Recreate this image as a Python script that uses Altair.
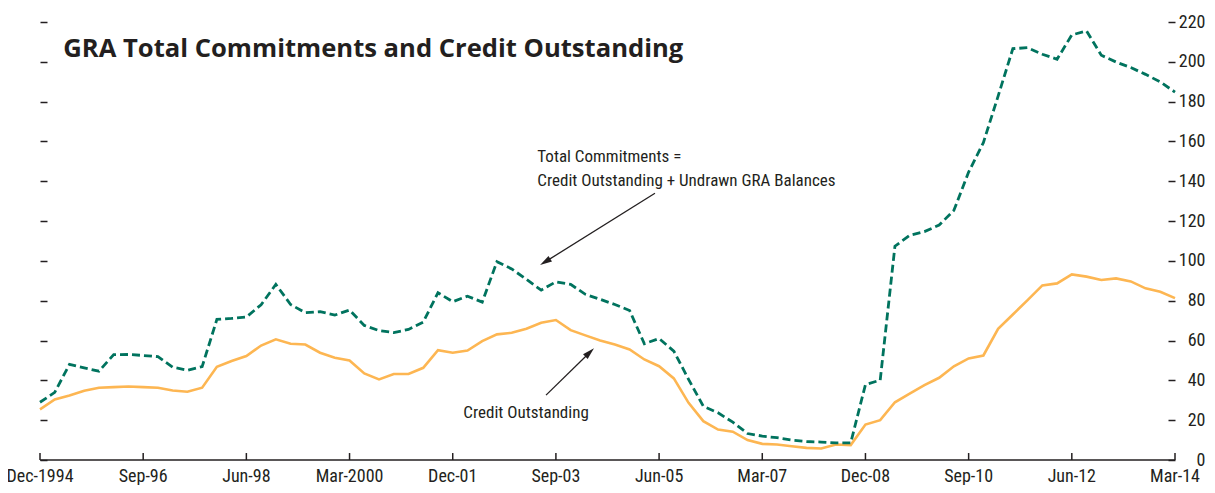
import altair as alt
import pandas as pd

# ---------------- data ----------------
quarters = [str(p) for p in pd.period_range("1994Q4", "2014Q1", freq="Q")]

total_commitments = [
    29.0, 34.0, 48.0, 46.3, 44.6, 52.9, 53.0, 52.5, 51.9, 46.6,
    45.1, 46.9, 70.6, 71.1, 71.8, 78.0, 88.2, 78.1, 74.0, 74.5,
    72.8, 75.3, 67.6, 65.0, 64.0, 65.6, 69.3, 84.0, 79.5, 82.3,
    79.3, 99.6, 96.0, 90.7, 85.3, 89.5, 88.2, 83.2, 80.7, 78.1,
    75.1, 58.4, 61.0, 54.7, 40.5, 27.0, 23.7, 19.0, 13.3, 12.0,
    11.2, 10.0, 9.3, 9.0, 8.6, 8.6, 37.9, 40.1, 107.4, 112.8,
    114.7, 118.0, 125.4, 144.6, 159.4, 182.8, 206.6, 207.1, 203.8, 201.3,
    213.5, 215.5, 203.3, 199.9, 197.1, 193.7, 189.9, 184.8,
]

credit_outstanding = [
    25.4, 30.4, 32.4, 34.8, 36.3, 36.6, 36.9, 36.6, 36.3, 34.9,
    34.3, 36.3, 46.8, 49.7, 52.2, 57.5, 60.6, 58.4, 58.0, 53.9,
    51.4, 50.0, 43.5, 40.5, 43.2, 43.2, 46.3, 55.2, 53.9, 55.0,
    59.7, 63.1, 63.9, 65.9, 68.9, 70.3, 65.2, 62.6, 60.0, 58.0,
    55.5, 50.5, 47.1, 41.0, 28.7, 19.5, 15.3, 14.2, 10.0, 8.1,
    7.8, 6.9, 6.1, 5.8, 7.8, 7.5, 17.8, 20.0, 29.0, 33.3,
    37.6, 41.3, 47.1, 51.0, 52.5, 65.9, 73.1, 80.3, 87.7, 88.7,
    93.2, 92.1, 90.4, 91.2, 89.7, 86.2, 84.5, 81.3,
]

tick_labels = ["Dec-1994", "Sep-96", "Jun-98", "Mar-2000", "Dec-01", "Sep-03",
               "Jun-05", "Mar-07", "Dec-08", "Sep-10", "Jun-12", "Mar-14"]
tick_positions = [0, 7, 14, 21, 28, 35, 42, 49, 56, 63, 70, 77]
y_ticks = [0, 20, 40, 60, 80, 100, 120, 140, 160, 180, 200, 220]

# annotations (data coordinates: quarter index, value)
note_text = ["Total Commitments =", "Credit Outstanding + Undrawn GRA Balances", "Credit Outstanding"]
note_x = [33.74, 33.74, 28.72]
note_y = [149.8, 137.8, 20.9]

arrow_x = [41.72, 34.33]
arrow_y = [134.0, 32.6]
arrow_x2 = [34.27, 37.29]
arrow_y2 = [99.5, 54.0]
arrow_angle = [238, 46]

title_text = ["GRA Total Commitments and Credit Outstanding"]
title_x = [1.58]
title_y = [202.6]

# ---------------- styling ----------------
FONT = "Liberation Sans Narrow, Roboto Condensed, DejaVu Sans Condensed, sans-serif"
TXT = "#231f20"
GREEN = "#00735E"
ORANGE = "#FDB652"

df = pd.DataFrame({
    "q": list(range(len(quarters))),
    "quarter": quarters,
    "total": total_commitments,
    "credit": credit_outstanding,
})
notes = pd.DataFrame({"text": note_text, "x": note_x, "y": note_y})
arrows = pd.DataFrame({"x": arrow_x, "y": arrow_y, "x2": arrow_x2, "y2": arrow_y2, "angle": arrow_angle})
titles = pd.DataFrame({"text": title_text, "x": title_x, "y": title_y})
ticks_df = pd.DataFrame({"pos": tick_positions, "label": tick_labels})

x_scale = alt.Scale(domain=[0, 77], nice=False, zero=False)
y_scale = alt.Scale(domain=[0, 220], nice=False, zero=True)

y_axis_right = alt.Axis(
    orient="right", values=y_ticks, title=None, grid=False, domain=False,
    ticks=True, tickSize=7, tickWidth=1.5, tickColor=TXT, offset=-7,
    labelAlign="right", labelPadding=30, labelFont=FONT, labelFontSize=18,
    labelColor=TXT, labelFlush=False,
)
y_axis_left = alt.Axis(
    orient="left", values=y_ticks, title=None, grid=False, domain=False,
    ticks=True, tickSize=7, tickWidth=1.5, tickColor=TXT, offset=-7,
    labels=False,
)

base = alt.Chart(df)

credit_line = base.mark_line(color=ORANGE, strokeWidth=2.6).encode(
    x=alt.X("q:Q", scale=x_scale, axis=None),
    y=alt.Y("credit:Q", scale=y_scale, axis=y_axis_right),
)

total_line = base.mark_line(color=GREEN, strokeWidth=2.8, strokeDash=[8, 4]).encode(
    x=alt.X("q:Q", axis=None),
    y=alt.Y("total:Q", axis=None),
)

# x axis line (at value 0) and inward ticks / labels, driven by the tick arrays
baseline = alt.Chart(pd.DataFrame({"a": [0]})).mark_rule(color=TXT, strokeWidth=1.5).encode(
    x=alt.X(datum=0, type="quantitative", axis=None),
    x2=alt.X2(datum=77),
    y=alt.Y(datum=0, type="quantitative", axis=y_axis_left),
)

x_ticks = alt.Chart(ticks_df).mark_rule(color=TXT, strokeWidth=1.5).encode(
    x=alt.X("pos:Q", axis=None),
    y=alt.Y(datum=0, type="quantitative", axis=None),
    y2=alt.Y2(datum=3.5),
)

x_labels = alt.Chart(ticks_df).mark_text(
    align="center", baseline="alphabetic", font=FONT, fontSize=18, color=TXT
).encode(
    x=alt.X("pos:Q", axis=None),
    y=alt.value(460),
    text="label:N",
)

note_layer = alt.Chart(notes).mark_text(
    align="left", baseline="alphabetic", font=FONT, fontSize=17, color=TXT
).encode(
    x=alt.X("x:Q", axis=None),
    y=alt.Y("y:Q", axis=None),
    text="text:N",
)

arrow_lines = alt.Chart(arrows).mark_rule(color=TXT, strokeWidth=1.3).encode(
    x=alt.X("x:Q", axis=None),
    y=alt.Y("y:Q", axis=None),
    x2="x2:Q",
    y2="y2:Q",
)

arrow_heads = alt.Chart(arrows).mark_point(
    shape="M0,-1L0.55,1L-0.55,1Z", filled=True, size=144, color=TXT, opacity=1
).encode(
    x=alt.X("x2:Q", axis=None),
    y=alt.Y("y2:Q", axis=None),
    angle=alt.Angle("angle:Q", scale=None),
)

title_layer = alt.Chart(titles).mark_text(
    align="left", baseline="alphabetic", font="Open Sans", fontWeight="bold", fontSize=25.6, color=TXT
).encode(
    x=alt.X("x:Q", axis=None),
    y=alt.Y("y:Q", axis=None),
    text="text:N",
)

chart = alt.layer(
    credit_line, total_line, baseline, x_ticks, x_labels,
    note_layer, arrow_lines, arrow_heads, title_layer
).resolve_axis(y="independent").properties(
    width=1135,
    height=438,
    autosize=alt.AutoSizeParams(type="none"),
    padding={"left": 32, "top": 14, "right": 32, "bottom": 25},
    background="white",
).configure_view(stroke=None)

chart.save("out.html", embed_options={"renderer": "svg", "actions": False})
